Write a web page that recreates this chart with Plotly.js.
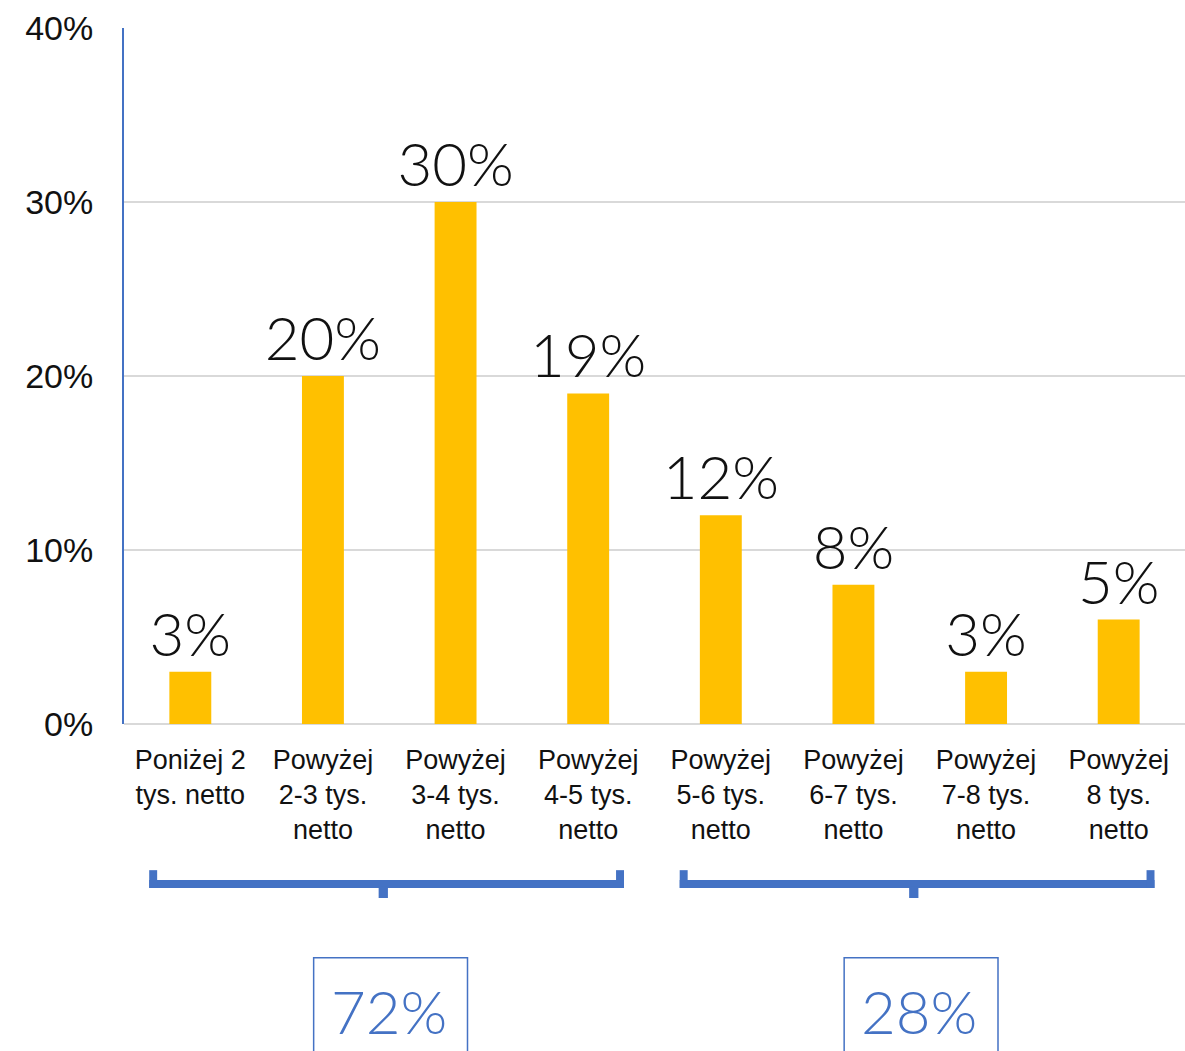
<!DOCTYPE html>
<html>
<head>
<meta charset="utf-8">
<script src="https://cdn.plot.ly/plotly-3.0.1.min.js"></script>
<style>html,body{margin:0;padding:0;background:#fff;}#chart{width:1185px;height:1051px;}</style>
</head>
<body>
<div id="chart"></div>
<script>
const categories = [
  "Poniżej 2<br>tys. netto",
  "Powyżej<br>2-3 tys.<br>netto",
  "Powyżej<br>3-4 tys.<br>netto",
  "Powyżej<br>4-5 tys.<br>netto",
  "Powyżej<br>5-6 tys.<br>netto",
  "Powyżej<br>6-7 tys.<br>netto",
  "Powyżej<br>7-8 tys.<br>netto",
  "Powyżej<br>8 tys.<br>netto"
];
const values = [3, 20, 30, 19, 12, 8, 3, 6];
const valueLabels = ["3%", "20%", "30%", "19%", "12%", "8%", "3%", "5%"];
const tickValues = [0, 10, 20, 30, 40];
const tickLabels = ["0%", "10%", "20%", "30%", "40%"];
const groupStart = [0, 4];
const groupEnd = [3, 7];
const groupLabels = ["72%", "28%"];

const blue = "#4472C4";
const shapes = [];
const annotations = [];
const yBar = -0.224, yHook = -0.21, yTick = -0.25, th = 0.0115;
for (let g = 0; g < groupLabels.length; g++) {
  const x0 = groupStart[g] - 0.31, x1 = groupEnd[g] + 0.27;
  const mid = (groupStart[g] + groupEnd[g]) / 2 - 0.045;
  shapes.push({type: "rect", xref: "x", yref: "paper", x0: x0, x1: x1, y0: yBar - th, y1: yBar, fillcolor: blue, line: {width: 0}});
  shapes.push({type: "rect", xref: "x", yref: "paper", x0: x0, x1: x0 + 0.06, y0: yBar - th, y1: yHook, fillcolor: blue, line: {width: 0}});
  shapes.push({type: "rect", xref: "x", yref: "paper", x0: x1 - 0.06, x1: x1, y0: yBar - th, y1: yHook, fillcolor: blue, line: {width: 0}});
  shapes.push({type: "rect", xref: "x", yref: "paper", x0: mid - 0.035, x1: mid + 0.035, y0: yTick, y1: yBar - th + 0.002, fillcolor: blue, line: {width: 0}});
  shapes.push({type: "rect", xref: "x", yref: "paper", x0: mid - 0.525, x1: mid + 0.635, y0: -0.52, y1: -0.336, fillcolor: "rgba(0,0,0,0)", line: {color: blue, width: 1.5}});
  annotations.push({xref: "x", yref: "paper", x: mid + 0.04, y: -0.413, text: groupLabels[g], showarrow: false, font: {family: "Lato", size: 60, color: blue, weight: 300}, xanchor: "center", yanchor: "middle"});
}

const trace = {
  type: "bar",
  x: categories,
  y: values,
  text: valueLabels,
  textposition: "outside",
  constraintext: "none",
  cliponaxis: false,
  textfont: {family: "Lato", size: 60, color: "#111111", weight: 300},
  marker: {color: "#FFC000", line: {width: 0}},
  width: 0.316,
  hoverinfo: "none"
};

const layout = {
  width: 1185,
  height: 1051,
  margin: {l: 124, r: 0, t: 28, b: 327},
  paper_bgcolor: "#ffffff",
  plot_bgcolor: "#ffffff",
  showlegend: false,
  xaxis: {
    type: "category",
    tickfont: {family: "Liberation Sans, Arial", size: 27, color: "#111111"},
    showgrid: false,
    showline: false,
    ticks: "",
    ticklabelstandoff: 17,
    automargin: false,
    range: [-0.5, 7.5]
  },
  yaxis: {
    range: [0, 40],
    tickvals: tickValues,
    ticktext: tickLabels,
    tickfont: {family: "Liberation Sans, Arial", size: 34, color: "#111111"},
    showgrid: true,
    gridcolor: "#d9d9d9",
    gridwidth: 1.5,
    zeroline: true,
    zerolinecolor: "#d9d9d9",
    zerolinewidth: 2,
    showline: true,
    linecolor: blue,
    linewidth: 2,
    ticks: "",
    ticklabelstandoff: 22,
    automargin: false
  },
  shapes: shapes,
  annotations: annotations
};

Plotly.newPlot("chart", [trace], layout, {displayModeBar: false, staticPlot: true});
</script>
</body>
</html>
